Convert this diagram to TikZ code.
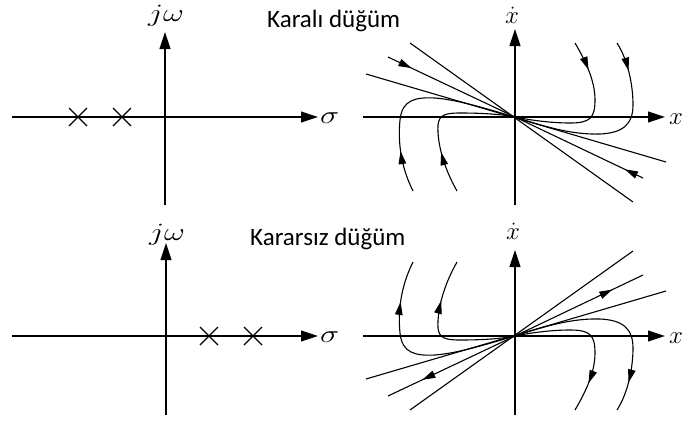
\documentclass[tikz,border=0pt]{standalone}
\usepackage{fontspec}
\usepackage{graphicx}
\newfontfamily\titlefont{Carlito}
\usetikzlibrary{arrows.meta,decorations.markings}

\tikzset{
  axisline/.style={line width=1.1pt,-{Triangle[length=17pt,width=11pt]}},
  plain/.style={line width=1.1pt},
  tipat/.style={postaction={decorate},decoration={markings,mark=at position #1 with {\mytip}}},
  titletext/.style={font=\titlefont\fontsize{25}{29}\selectfont, inner sep=0pt, anchor=base west},
  mathlbl/.style={font=\fontsize{23}{27}\selectfont, inner sep=0pt, anchor=base},
  polemark/.style={line width=1.1pt}
}
\newcommand\wide[1]{\scalebox{1.3}[1]{#1}}
\newcommand\mytip{\arrow{Triangle[length=13pt,width=7.5pt]}}
\newcommand\polecross[2]{%
  \draw[polemark] (#1-9,#2-9) -- (#1+9,#2+9);
  \draw[polemark] (#1-9,#2+9) -- (#1+9,#2-9);}
\newcommand\portrait[2]{%
  % eigen-lines
  \draw[plain] (-105,-74) coordinate (la1) -- (118,85) coordinate (la2);
  \draw[plain] (-149,-43) coordinate (lc1) -- (151,45) coordinate (lc2);
  \draw[plain, tipat=#1] (-127,-60) coordinate (lb1) -- (o);
  \draw[plain, tipat=#2] (128,61) coordinate (lb2) -- (o);
  % trajectories
  \draw[plain, tipat=42pt] (-102,74) .. controls (-115,48) and (-117,23) .. (-115,3)
     .. controls (-113,-17) and (-100,-20) .. (-80,-19)
     .. controls (-55,-17) and (-25,-7) .. (o);
  \draw[plain, tipat=42pt] (-58,74) .. controls (-70,53) and (-78,28) .. (-77,8)
     .. controls (-76,-2) and (-70,-4) .. (-55,-4)
     .. controls (-35,-4) and (-15,-3) .. (o);
  \draw[plain, tipat=30pt] (60,-74) .. controls (70,-57) and (80,-37) .. (80,-17)
     .. controls (80,1) and (75,6) .. (55,6)
     .. controls (35,6) and (15,3) .. (o);
  \draw[plain, tipat=30pt] (102,-74) .. controls (113,-57) and (118,-32) .. (118,-12)
     .. controls (118,8) and (107,16) .. (85,17)
     .. controls (55,18) and (25,8) .. (o);
}

\begin{document}
\begin{tikzpicture}[x=1pt,y=-1pt]
\useasboundingbox (0,0) rectangle (683,429);

% ---------- top left: poles (stable) ----------
\coordinate (s1l) at (12,117);
\coordinate (s1r) at (318,117);
\coordinate (w1b) at (165,205);
\coordinate (w1t) at (165,32);
\draw[axisline] (s1l) -- (s1r);
\draw[axisline] (w1b) -- (w1t);
\node[mathlbl, anchor=base west] (sig1) at (320,123) {\wide{$\sigma$}};
\node[mathlbl] (jw1) at (166,21) {\wide{$j\omega$}};
\polecross{78}{117}
\polecross{122}{117}

\node[titletext] (t1) at (267,27) {Karalı düğüm};

% ---------- top right: stable node ----------
\begin{scope}[shift={(515,117)}]
  \coordinate (o) at (0,0);
  \coordinate (x1l) at (-152,0);
  \coordinate (x1r) at (150,0);
  \coordinate (v1b) at (0,88);
  \coordinate (v1t) at (0,-88);
  \draw[axisline] (x1l) -- (x1r);
  \draw[axisline] (v1b) -- (v1t);
  \portrait{26pt}{20pt}
\end{scope}
\node[mathlbl] (xd1) at (512,23) {$\dot{x}$};
\node[mathlbl, anchor=base west] (xx1) at (669,124) {$x$};

% ---------- bottom left: poles (unstable) ----------
\coordinate (s2l) at (12,336);
\coordinate (s2r) at (318,336);
\coordinate (w2b) at (166,415);
\coordinate (w2t) at (166,243);
\draw[axisline] (s2l) -- (s2r);
\draw[axisline] (w2b) -- (w2t);
\node[mathlbl, anchor=base west] (sig2) at (320,342) {\wide{$\sigma$}};
\node[mathlbl] (jw2) at (167,240) {\wide{$j\omega$}};
\polecross{209}{336}
\polecross{253}{336}

\node[titletext] (t2) at (250,245) {Kararsız düğüm};

% ---------- bottom right: unstable node ----------
\begin{scope}[shift={(515,336)}]
  \coordinate (o) at (0,0);
  \coordinate (x2l) at (-152,0);
  \coordinate (x2r) at (150,0);
  \coordinate (v2b) at (0,79);
  \coordinate (v2t) at (0,-86);
  \draw[axisline] (x2l) -- (x2r);
  \draw[axisline] (v2b) -- (v2t);
\end{scope}
\begin{scope}[shift={(515,336)}, yscale=-1]
  \coordinate (o) at (0,0);
  \renewcommand\mytip{\arrowreversed{Triangle[length=13pt,width=7.5pt]}}
  \portrait{38pt}{34pt}
\end{scope}
\node[mathlbl] (xd2) at (513,239) {$\dot{x}$};
\node[mathlbl, anchor=base west] (xx2) at (669,343) {$x$};
\end{tikzpicture}
\end{document}
